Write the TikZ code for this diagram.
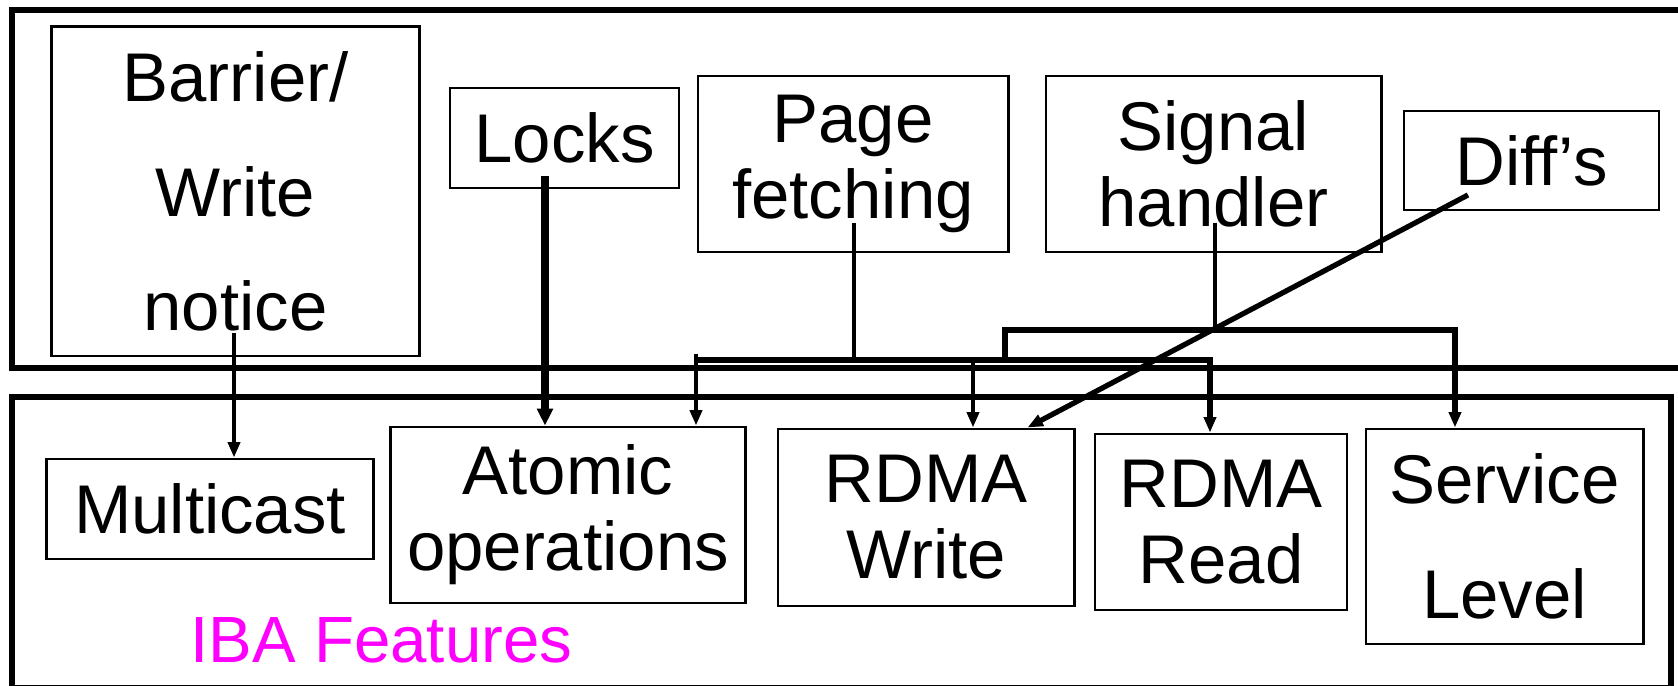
\documentclass[tikz,border=0pt]{standalone}
\usepackage{fontspec}
\setmainfont{Liberation Sans}
\usetikzlibrary{arrows.meta}
\definecolor{ibamagenta}{RGB}{255,0,255}
\newcommand\picwidth{1678}
\newcommand\picheight{686}
\newcommand\boxfont{\fontsize{19.6pt}{21.6pt}\selectfont}
\newcommand\widegap{11pt}

\begin{document}
\begin{tikzpicture}[x = 0.01cm, y = -0.01cm,
	box/.style = {draw, line width = 0.8pt, inner sep = 0pt, align = center, font = \boxfont},
	frame/.style = {line width = 1.8pt},
	headed/.style = {-{Triangle[length = 4.4pt, width = 3.4pt]}},
	link/.style = {line width = 1.2pt, headed},
	bus/.style = {line width = 1.5pt}]
	\clip (0, 0) rectangle (\picwidth, \picheight);

	% Rahmen:
	\draw [frame] (12, 10) rectangle (1700, 368);
	\draw [frame] (12, 397) rectangle (1671, 688);

	% Obere Ebene
	\node [box, minimum width = 3.68cm, minimum height = 3.29cm] (barrier) at (235.5, 191.5) {Barrier/\\[\widegap]Write\\[\widegap]notice};
	\node [box, minimum width = 2.29cm, minimum height = 1.00cm] (locks) at (564.5, 138) {Locks};
	\node [box, minimum width = 3.10cm, minimum height = 1.76cm] (pagefetch) at (853, 164) {Page\\fetching};
	\node [box, minimum width = 3.35cm, minimum height = 1.76cm] (signal) at (1213.5, 164) {Signal\\handler};
	\node [box, minimum width = 2.55cm, minimum height = 0.99cm] (diffs) at (1531.5, 160.5) {Diff's};

	% IBA-Ebene
	\node [box, minimum width = 3.26cm, minimum height = 1.00cm] (multicast) at (210, 509) {Multicast};
	\node [box, minimum width = 3.54cm, minimum height = 1.76cm] (atomic) at (568, 515) {Atomic\\operations};
	\node [box, minimum width = 2.96cm, minimum height = 1.77cm] (rdmawrite) at (926, 517.5) {RDMA\\Write};
	\node [box, minimum width = 2.52cm, minimum height = 1.76cm] (rdmaread) at (1221, 522) {RDMA\\Read};
	\node [box, minimum width = 2.77cm, minimum height = 2.15cm] (service) at (1504.5, 536.5) {Service\\[\widegap]Level};
	\node [anchor = base west, inner sep = 0pt, text = ibamagenta, font = \fontsize{18.6pt}{20pt}\selectfont] (ibalabel) at (190, 663) {IBA Features};

	% Abgriffe und Sammelleitungen
	\coordinate (noticetap) at (234, 333);
	\coordinate (lockstap) at (545, 176);
	\coordinate (pagetap) at (854, 223);
	\coordinate (signaltap) at (1215, 223);
	\coordinate (diffstap) at (1468, 195);
	\coordinate (busoneL) at (696, 360);
	\coordinate (busoneR) at (1210, 360);
	\coordinate (bustwoL) at (1005, 330);
	\coordinate (bustwoR) at (1455, 330);
	\coordinate (writetap) at (973, 360);

	\draw [link] (noticetap) -- (noticetap |- multicast.north);
	\draw [line width = 2.1pt, -{Triangle[length = 4.8pt, width = 4.4pt]}] (lockstap) -- (lockstap |- atomic.north);
	\draw [line width = 1.2pt] (pagetap) -- (pagetap |- busoneL);
	\draw [line width = 1.2pt] (signaltap) -- (signaltap |- bustwoL);
	\draw [bus, headed] (busoneL) -- (busoneR) -- (busoneR |- rdmaread.north);
	\draw [link] ([yshift = 0.06cm]busoneL) -- (busoneL |- atomic.north);
	\draw [link] (writetap) -- (writetap |- rdmawrite.north);
	\draw [bus, headed] (bustwoL |- busoneL) -- (bustwoL) -- (bustwoR) -- (bustwoR |- service.north);
	\draw [bus, headed] (diffstap) -- ([xshift = -0.48cm]rdmawrite.north east);
\end{tikzpicture}
\end{document}
